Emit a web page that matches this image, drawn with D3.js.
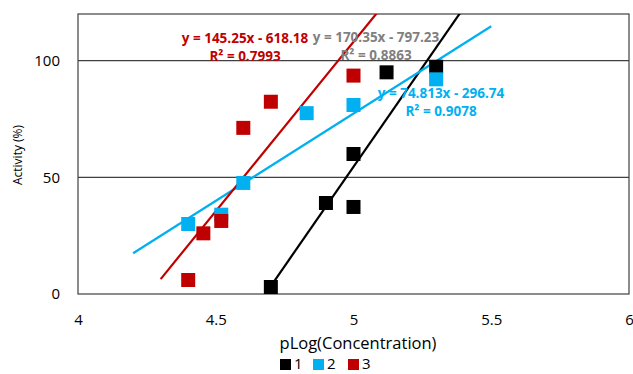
<!DOCTYPE html>
<html><head><meta charset="utf-8">
<script src="https://cdn.jsdelivr.net/npm/d3@7"></script>
<style>body{margin:0;background:#fff}svg{display:block}</style>
</head><body><svg id="c" width="633" height="374"></svg>
<script>
const seriesNames = ["1", "2", "3"];
const seriesColors = ["#000000", "#00B0F0", "#C00000"];
const s1x = [4.7, 4.9, 5.0, 5.0, 5.12, 5.3];
const s1y = [3, 39, 60, 37.3, 95, 97.4];
const s2x = [4.4, 4.52, 4.6, 4.83, 5.0, 5.3];
const s2y = [30, 34, 47.6, 77.5, 81, 92];
const s3x = [4.4, 4.455, 4.52, 4.6, 4.7, 5.0];
const s3y = [6, 26, 31.3, 71.2, 82.4, 93.6];
const slopes = [170.35, 74.813, 145.25];
const intercepts = [-797.23, -296.74, -618.18];
const trendRange = [[4.7, 5.5], [4.2, 5.5], [4.3, 5.3]];
const eqLabels = ["y = 170.35x - 797.23", "y = 74.813x - 296.74", "y = 145.25x - 618.18"];
const r2Labels = ["R² = 0.8863", "R² = 0.9078", "R² = 0.7993"];
const xTicks = [4, 4.5, 5, 5.5, 6];
const yTicks = [0, 50, 100];

const svg = d3.select("#c");
const L = 78, R = 629, T = 14, B = 294;
const x = d3.scaleLinear().domain([4, 6]).range([L, R]);
const y = d3.scaleLinear().domain([0, 120]).range([B, T]);
const font = "'Open Sans', 'Liberation Sans', sans-serif";

svg.append("defs").append("clipPath").attr("id", "clip")
  .append("rect").attr("x", L).attr("y", T).attr("width", R - L).attr("height", B - T);

svg.append("g").selectAll("line").data(yTicks.filter(d => d > 0)).join("line")
  .attr("x1", L).attr("x2", R).attr("y1", d => y(d)).attr("y2", d => y(d))
  .attr("stroke", "#404040").attr("stroke-width", 1.2);

svg.append("rect").attr("x", L).attr("y", T).attr("width", R - L).attr("height", B - T)
  .attr("fill", "none").attr("stroke", "#404040").attr("stroke-width", 1.2);

const xa = svg.append("g").attr("transform", `translate(0,${B})`)
  .call(d3.axisBottom(x).tickValues(xTicks).tickSize(0).tickPadding(20).tickFormat(d3.format("")));
xa.select(".domain").remove();
xa.selectAll("text").attr("font-family", font).attr("font-size", 15).attr("fill", "#000");
const ya = svg.append("g").attr("transform", `translate(${L},0)`)
  .call(d3.axisLeft(y).tickValues(yTicks).tickSize(0).tickPadding(18));
ya.select(".domain").remove();
ya.selectAll("text").attr("font-family", font).attr("font-size", 15).attr("fill", "#000");

svg.append("text").attr("x", 358).attr("y", 349).attr("text-anchor", "middle")
  .attr("font-family", font).attr("font-size", 16.5).text("pLog(Concentration)");
svg.append("text").attr("transform", "translate(22,155) rotate(-90)").attr("text-anchor", "middle")
  .attr("font-family", font).attr("font-size", 12).text("Activity (%)");

const series = [[s1x, s1y], [s2x, s2y], [s3x, s3y]];
const g = svg.append("g").attr("clip-path", "url(#clip)");

series.forEach((s, i) => {
  const pts = s[0].map((v, j) => [v, s[1][j]]);
  svg.append("g").selectAll("rect").data(pts).join("rect")
    .attr("x", d => x(d[0]) - 7).attr("y", d => y(d[1]) - 7)
    .attr("width", 14).attr("height", 14).attr("fill", seriesColors[i]);
});

series.forEach((s, i) => {
  const [a, b] = trendRange[i];
  g.append("line")
    .attr("x1", x(a)).attr("y1", y(slopes[i] * a + intercepts[i]))
    .attr("x2", x(b)).attr("y2", y(slopes[i] * b + intercepts[i]))
    .attr("stroke", seriesColors[i]).attr("stroke-width", 2.2);
});

const eqPos = [[376, 42, "#7F7F7F"], [441, 98, "#00B0F0"], [245, 43, "#C00000"]];
eqPos.forEach((p, i) => {
  const t = svg.append("text").attr("font-family", font).attr("font-size", 13.5).attr("font-weight", "bold")
    .attr("fill", p[2]).attr("text-anchor", "middle");
  t.append("tspan").attr("x", p[0]).attr("y", p[1]).text(eqLabels[i]);
  t.append("tspan").attr("x", p[0]).attr("y", p[1] + 18).text(r2Labels[i]);
});

const leg = svg.append("g");
const legX = [280, 313, 348];
seriesNames.forEach((n, i) => {
  leg.append("rect").attr("x", legX[i]).attr("y", 359).attr("width", 11).attr("height", 11).attr("fill", seriesColors[i]);
  leg.append("text").attr("x", legX[i] + 14).attr("y", 369).attr("font-family", font).attr("font-size", 15).text(n);
});
</script></body></html>
